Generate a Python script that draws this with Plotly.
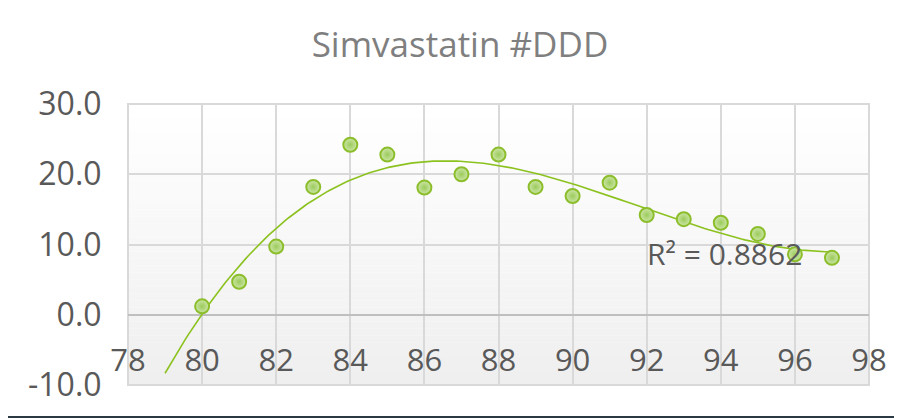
import numpy as np
import plotly.graph_objects as go

# ---- data ----
years = [80, 81, 82, 83, 84, 85, 86, 87, 88, 89, 90, 91, 92, 93, 94, 95, 96, 97]
ddd = [1.2, 4.7, 9.7, 18.2, 24.2, 22.8, 18.1, 20.0, 22.8, 18.2, 16.9, 18.8,
       14.2, 13.6, 13.1, 11.5, 8.6, 8.1]
x_ticks = [78, 80, 82, 84, 86, 88, 90, 92, 94, 96, 98]
y_ticks = [-10, 0, 10, 20, 30]
title_text = "Simvastatin #DDD"
r2_text = "R² = 0.8862"
trend_start = 79  # trendline forecast backward by 1

# ---- polynomial (order 3) trendline, as the spreadsheet draws it ----
coef = np.polyfit(years, ddd, 3)
tx = np.linspace(trend_start, years[-1], 200)
ty = np.polyval(coef, tx)

FONT = "Open Sans"
LABEL = "#595959"
GRID = "#d9d9d9"
W, H = 902, 418
L, T, R, B = 120, 96, 41, 41
PW, PH = W - L - R, H - T - B

fig = go.Figure()
fig.add_trace(go.Scatter(x=tx, y=ty, mode="lines",
                         line=dict(color="#8cc21f", width=1.6),
                         hoverinfo="skip", showlegend=False))
fig.add_trace(go.Scatter(x=years, y=ddd, mode="markers",
                         marker=dict(size=14, color="#cde6a8",
                                     gradient=dict(type="radial", color="#9ccb5c"),
                                     line=dict(color="#8cbe2c", width=2)),
                         showlegend=False))

shapes = []
# white chart area on the dark frame
shapes.append(dict(type="rect", xref="paper", yref="paper", layer="below",
                   x0=(0 - L) / PW, x1=(W + 5 - L) / PW,
                   y0=(T + PH - 408) / PH, y1=(T + PH + 5) / PH,
                   fillcolor="white", line=dict(width=0)))
# vertical gradient in plot area
n = 40
for i in range(n):
    t = i / (n - 1)
    c = int(round(255 - 16 * (1 - t)))
    shapes.append(dict(type="rect", xref="x domain", yref="y domain", layer="below",
                       x0=0, x1=1, y0=i / n, y1=(i + 1) / n,
                       fillcolor=f"rgb({c},{c},{c})", line=dict(width=0)))
# plot border
shapes.append(dict(type="rect", xref="x domain", yref="y domain", layer="below",
                   x0=0, x1=1, y0=0, y1=1, fillcolor="rgba(0,0,0,0)",
                   line=dict(color=GRID, width=2)))

fig.update_layout(
    width=W, height=H,
    margin=dict(l=L, r=R, t=T, b=B),
    paper_bgcolor="#2b3a42",
    plot_bgcolor="rgba(0,0,0,0)",
    title=dict(text=title_text, x=452 / W, xref="container", xanchor="center",
               y=1 - 37 / H, yref="container", yanchor="middle",
               font=dict(family=FONT, size=35, color="#7f7f7f")),
    font=dict(family=FONT, color=LABEL),
    shapes=shapes,
    annotations=[dict(text=r2_text, x=94.1, y=8.7, xref="x", yref="y",
                      showarrow=False, font=dict(family=FONT, size=30, color=LABEL))],
    xaxis=dict(range=[78, 98], tickvals=x_ticks, ticktext=[str(v) for v in x_ticks],
               showgrid=True, gridcolor=GRID, gridwidth=2,
               zeroline=False, showline=False,
               anchor="free", position=(0 - (-10)) / 40,
               ticks="outside", ticklen=18, tickcolor="rgba(0,0,0,0)",
               tickfont=dict(family=FONT, size=31, color=LABEL)),
    yaxis=dict(range=[-10, 30], tickvals=y_ticks,
               ticktext=[f"{v:.1f}" for v in y_ticks],
               showgrid=True, gridcolor=GRID, gridwidth=2,
               zeroline=True, zerolinecolor="#bfbfbf", zerolinewidth=2,
               showline=False,
               ticks="outside", ticklen=19, tickcolor="rgba(0,0,0,0)",
               tickfont=dict(family=FONT, size=32, color=LABEL)),
)

fig.write_html("out.html")
